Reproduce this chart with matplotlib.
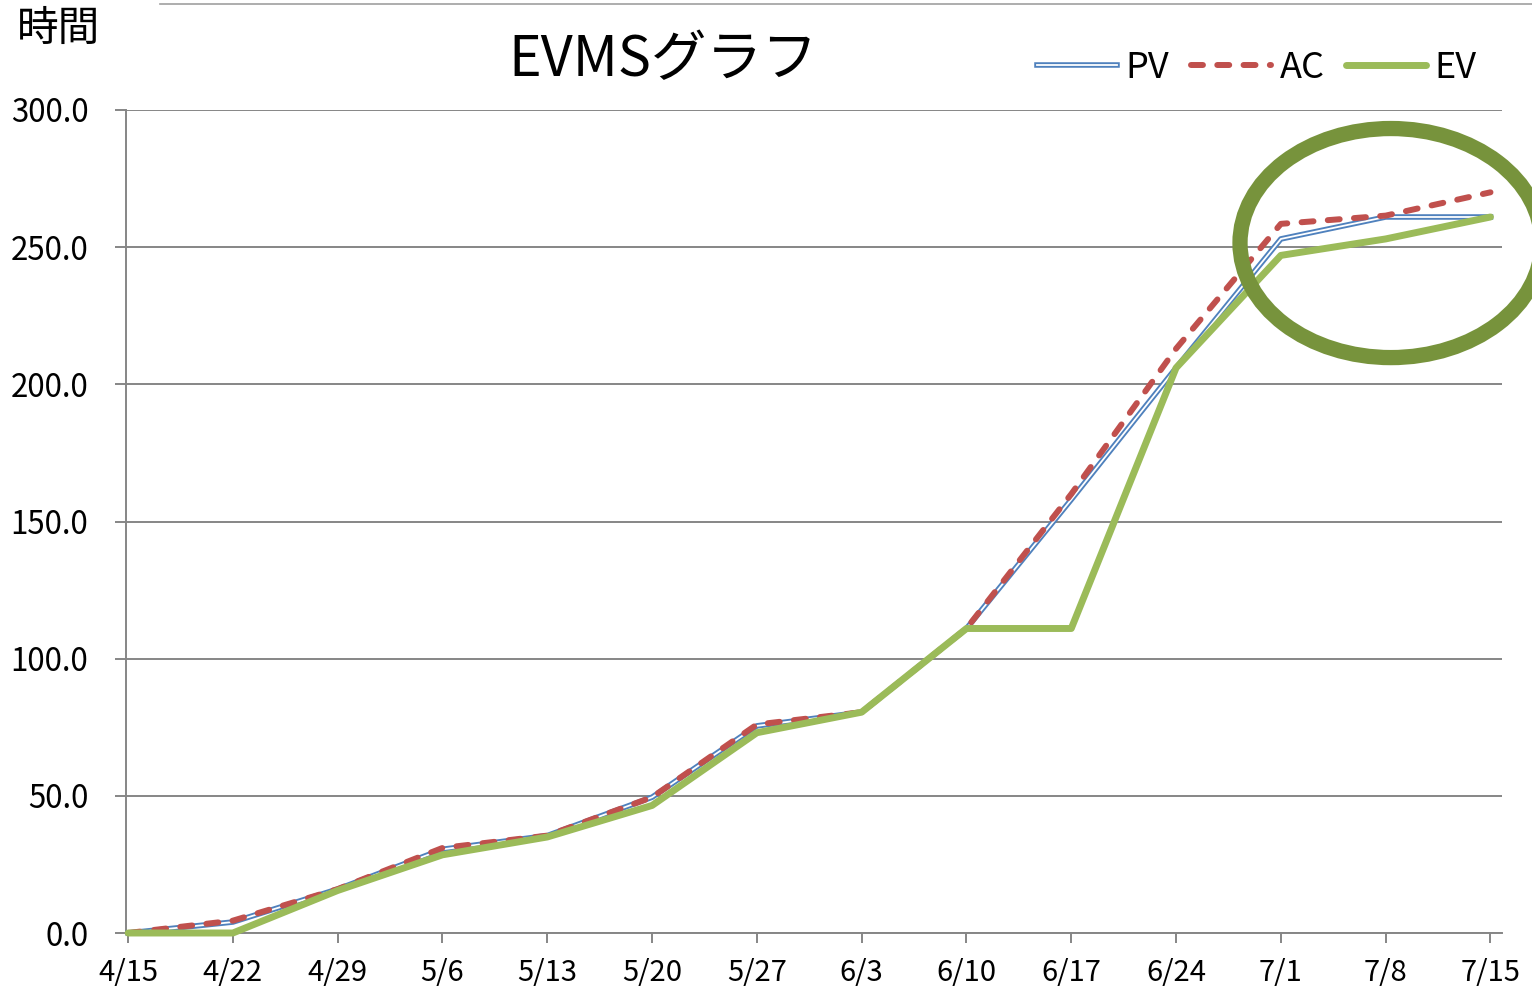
import matplotlib
matplotlib.use("Agg")
import matplotlib.pyplot as plt
from matplotlib.lines import Line2D
from matplotlib.patches import Ellipse
from matplotlib.legend_handler import HandlerTuple
from matplotlib.ticker import FormatStrFormatter

plt.rcParams['font.family'] = ['Noto Sans CJK JP', 'DejaVu Sans']

dates = ["4/15", "4/22", "4/29", "5/6", "5/13", "5/20", "5/27", "6/3",
         "6/10", "6/17", "6/24", "7/1", "7/8", "7/15"]
pv = [0, 4, 16, 30.5, 35.5, 49.5, 75.5, 80.5, 111, 158, 206, 253, 261, 261]
ac = [0, 4.5, 16, 31, 35.5, 49.5, 76, 80.5, 111, 160, 213, 258.5, 261.5, 270]
ev = [0, 0, 15.5, 28.5, 35, 46.5, 73, 80.5, 111, 111, 206, 247, 253, 261]

title = "EVMSグラフ"
ylabel = "時間"

W, H = 1532, 989
fig = plt.figure(figsize=(W / 100, H / 100), dpi=100)
ax = fig.add_axes([126 / W, 1 - 933 / H, (1502 - 126) / W, (933 - 110) / H])

x = list(range(len(dates)))
grid_c = "#868686"

ax.set_ylim(0, 300)
ax.set_xlim(-0.02, 13.11)
ax.set_yticks(range(0, 301, 50))
ax.yaxis.set_major_formatter(FormatStrFormatter("%.1f"))
ax.set_xticks(x)
ax.set_xticklabels(dates)
ax.grid(axis="y", color=grid_c, lw=1.4)
ax.set_axisbelow(True)
for s in ["top", "right"]:
    ax.spines[s].set_visible(False)
for s in ["left", "bottom"]:
    ax.spines[s].set_color(grid_c)
    ax.spines[s].set_linewidth(1.4)
ax.tick_params(axis="y", length=8, width=1.4, color=grid_c, labelsize=22.5, pad=19)
ax.tick_params(axis="x", length=7, width=1.4, color=grid_c, labelsize=21, pad=11)

pv_c, ac_c, ev_c = "#4F81BD", "#C0504D", "#9BBB59"
l_pv_o, = ax.plot(x, pv, color=pv_c, lw=4.0, solid_joinstyle="round", zorder=3, clip_on=False)
l_pv_i, = ax.plot(x, pv, color="white", lw=1.3, solid_joinstyle="round", zorder=3.1, clip_on=False)
l_ac, = ax.plot(x, ac, color=ac_c, lw=4.3, linestyle=(0, (2.0, 2.4)),
                dash_capstyle="round", zorder=4, clip_on=False)
l_ev, = ax.plot(x, ev, color=ev_c, lw=5, solid_capstyle="round", zorder=5, clip_on=False)

ell = Ellipse((12.05, 251.5), 2.88, 83.5, fill=False, edgecolor="#77933C",
              lw=11, zorder=6, clip_on=False)
ax.add_patch(ell)

fig.text(508 / W, 1 - 60 / H, title, fontsize=40, ha="left", va="center")
fig.text(17 / W, 1 - 29 / H, ylabel, fontsize=30, ha="left", va="center")

fig.add_artist(Line2D([160 / W, 1], [1 - 4 / H, 1 - 4 / H], color="#A0A0A0", lw=1.2))

leg = fig.legend([(l_pv_o, l_pv_i), l_ac, l_ev], ["PV", "AC", "EV"],
                 handler_map={tuple: HandlerTuple(ndivide=1)},
                 loc="center", bbox_to_anchor=(1257 / W, 1 - 68 / H), ncol=3,
                 frameon=False, fontsize=26, handlelength=2.2, handletextpad=0.25,
                 columnspacing=0.6, borderpad=0, borderaxespad=0)

fig.savefig("out.png", dpi=100)
